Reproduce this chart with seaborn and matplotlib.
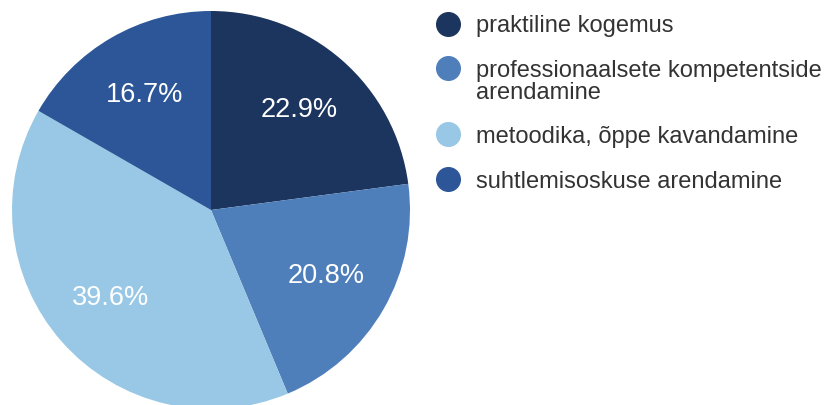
import matplotlib
matplotlib.use("Agg")
import matplotlib.pyplot as plt
import seaborn as sns
from matplotlib.lines import Line2D

categories = ["praktiline kogemus",
              "professionaalsete kompetentside\narendamine",
              "metoodika, õppe kavandamine",
              "suhtlemisoskuse arendamine"]
values = [22.9, 20.8, 39.6, 16.7]
colors = ["#1c355e", "#4f7fba", "#98c8e5", "#2c5697"]

sns.set_theme(style="white")
plt.rcParams['font.family'] = ['Liberation Sans', 'DejaVu Sans']

W, H = 831, 405
fig = plt.figure(figsize=(W / 100, H / 100), dpi=100)
cx, cy, r = 211, 210, 199
ax = fig.add_axes([(cx - r) / W, (H - cy - r) / H, 2 * r / W, 2 * r / H])
wedges, texts, autotexts = ax.pie(
    values, colors=colors, startangle=90, counterclock=False,
    autopct="%.1f%%", pctdistance=0.67, radius=1,
    wedgeprops=dict(linewidth=0, edgecolor="none"),
    textprops=dict(color="white", fontsize=19.5))
ax.set_xlim(-1, 1)
ax.set_ylim(-1, 1)
ax.set_aspect("equal")
ax.axis("off")

# legend drawn manually to align markers with first line of text
rows_y = [24, 68.3, 134.3, 179.3]
for lab, col, y in zip(categories, colors, rows_y):
    fig.add_artist(Line2D([448 / W], [1 - y / H], marker="o", markersize=17,
                          color=col, linestyle="none", transform=fig.transFigure))
    for i, line in enumerate(lab.split("\n")):
        fig.text(476 / W, 1 - (y + 8.3 + 22.5 * i) / H, line, fontsize=17,
                 color="#333333", va="baseline", ha="left")

fig.savefig("out.png", dpi=100)
